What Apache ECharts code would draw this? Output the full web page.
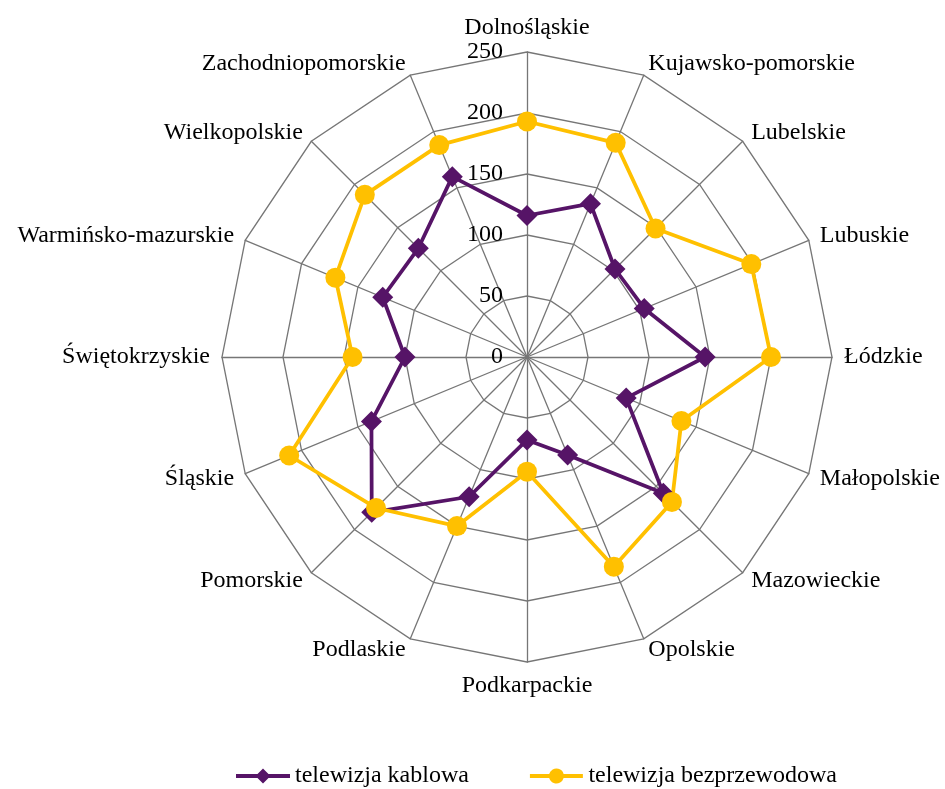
<!DOCTYPE html>
<html>
<head>
<meta charset="utf-8">
<script src="https://cdn.jsdelivr.net/npm/echarts@6/dist/echarts.min.js"></script>
<style>
  html, body { margin: 0; padding: 0; background: #fff; }
  #chart { width: 945px; height: 789px; }
</style>
</head>
<body>
<div id="chart"></div>
<script>
// Voivodeships, clockwise from the top
const regions = [
  'Dolnośląskie', 'Kujawsko-pomorskie', 'Lubelskie', 'Lubuskie', 'Łódzkie',
  'Małopolskie', 'Mazowieckie', 'Opolskie', 'Podkarpackie', 'Podlaskie',
  'Pomorskie', 'Śląskie', 'Świętokrzyskie', 'Warmińsko-mazurskie',
  'Wielkopolskie', 'Zachodniopomorskie'
];
const cableTv = [116, 136, 102, 104, 146, 88, 158, 87, 68, 124, 180, 138, 100, 128, 126, 160];
const wirelessTv = [193, 190, 149, 199, 200, 137, 168, 186, 94, 150, 175, 211, 143, 170, 188, 188];
const seriesNames = ['telewizja kablowa', 'telewizja bezprzewodowa'];
const scaleMax = 250;
const scaleStep = 50;

// ECharts lays radar axes out counter-clockwise; keep the first axis on top
// and walk the rest backwards so the regions run clockwise.
const order = [0].concat(regions.map((_, i) => i).slice(1).reverse());
const pick = arr => order.map(i => arr[i]);

const FONT = '"Liberation Serif", "Times New Roman", serif';
const GRID = '#767676';
const PURPLE = '#561467';
const GOLD = '#FFC000';
const CX = 527, CY = 357, R = 305;

// legend glyphs: a short line with the series marker in the middle
const ICON_DIAMOND = 'path://M0,6 L21.5,6 L27,0.5 L32.5,6 L54,6 L54,10 L32.5,10 L27,15.5 L21.5,10 L0,10 Z';
const ICON_CIRCLE = 'path://M0,6 L19.27,6 A7.5,7.5 0 0,1 33.73,6 L53,6 L53,10 L33.73,10 A7.5,7.5 0 0,1 19.27,10 L0,10 Z';

const chart = echarts.init(document.getElementById('chart'), null, { renderer: 'canvas' });

chart.setOption({
  animation: false,
  backgroundColor: '#ffffff',
  textStyle: { fontFamily: FONT },
  legend: {
    data: [
      { name: seriesNames[0], icon: ICON_DIAMOND },
      { name: seriesNames[1], icon: ICON_CIRCLE }
    ],
    top: 759,
    left: 231,
    itemWidth: 54,
    itemHeight: 15,
    itemGap: 61,
    textStyle: { fontFamily: FONT, fontSize: 24, color: '#000' }
  },
  radar: {
    center: [CX, CY],
    radius: R,
    startAngle: 90,
    shape: 'polygon',
    splitNumber: scaleMax / scaleStep,
    indicator: pick(regions).map(name => ({ name: name, min: 0, max: scaleMax })),
    axisName: { color: '#000', fontFamily: FONT, fontSize: 24 },
    nameGap: 12,
    axisLine: { lineStyle: { color: GRID, width: 1.3 } },
    splitLine: { lineStyle: { color: GRID, width: 1.3 } },
    splitArea: { show: false },
    axisTick: { show: false },
    axisLabel: { show: false }
  },
  // value scale printed along the vertical spoke
  grid: { left: CX, top: CY - R, width: 1, height: R, containLabel: false },
  xAxis: { type: 'value', show: false },
  yAxis: {
    type: 'value', min: 0, max: scaleMax, interval: scaleStep,
    axisLine: { show: false }, axisTick: { show: false }, splitLine: { show: false },
    axisLabel: { margin: 24, color: '#000', fontFamily: FONT, fontSize: 24 }
  },
  series: [
    {
      name: seriesNames[0],
      type: 'radar',
      symbol: 'diamond',
      symbolSize: 21,
      itemStyle: { color: PURPLE },
      lineStyle: { color: PURPLE, width: 3.75 },
      data: [{ value: pick(cableTv), name: seriesNames[0] }]
    },
    {
      name: seriesNames[1],
      type: 'radar',
      symbol: 'circle',
      symbolSize: 20,
      itemStyle: { color: GOLD },
      lineStyle: { color: GOLD, width: 3.75 },
      data: [{ value: pick(wirelessTv), name: seriesNames[1] }]
    }
  ]
});
</script>
</body>
</html>
